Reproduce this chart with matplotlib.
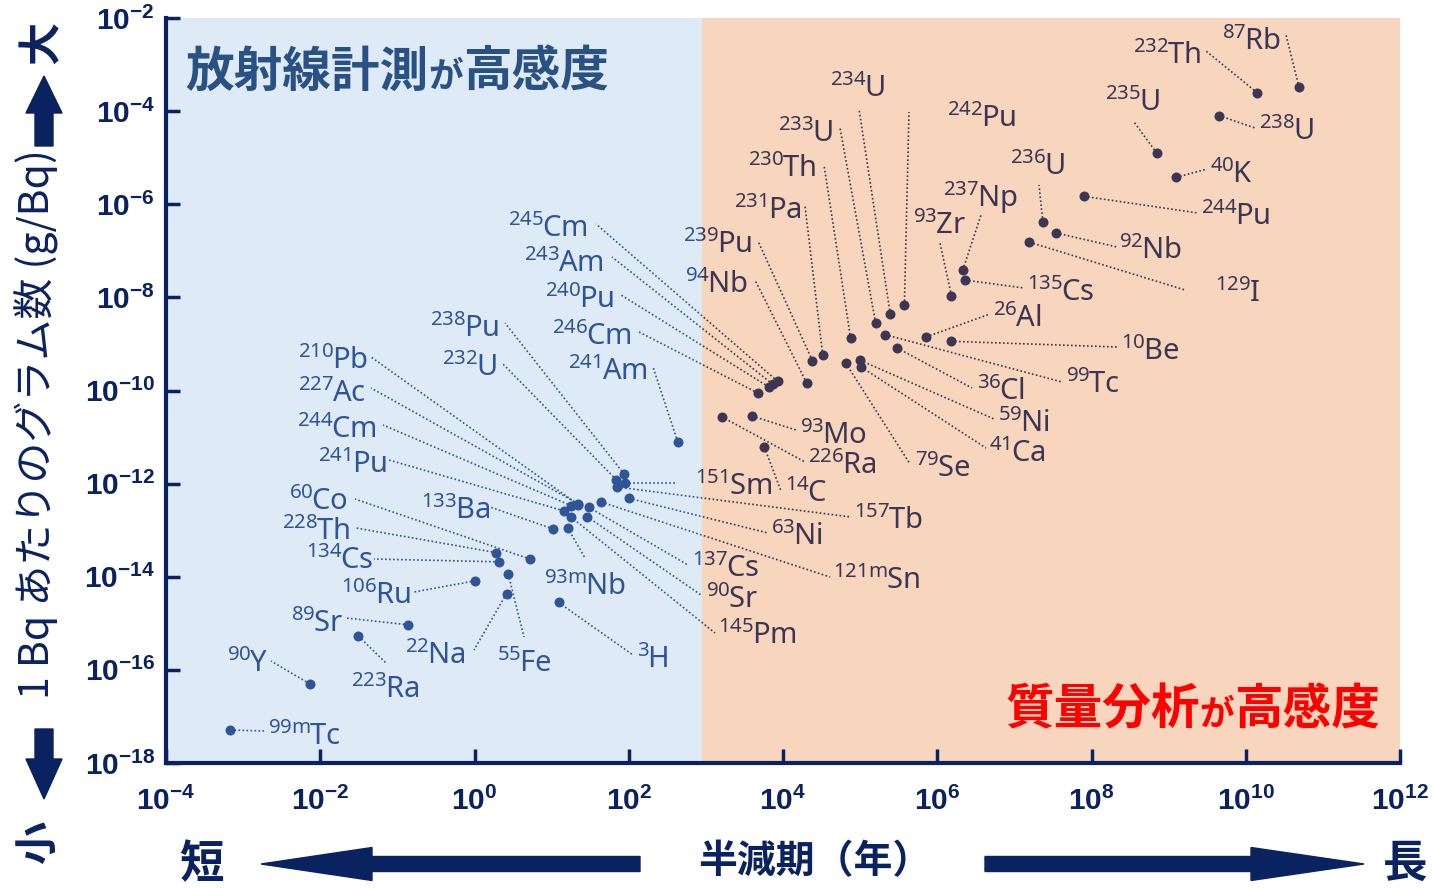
import re

import matplotlib
matplotlib.use("Agg")
import matplotlib.pyplot as plt
import matplotlib.transforms as mtransforms
from matplotlib.patches import FancyArrow
from matplotlib.offsetbox import TextArea, HPacker, AnnotationBbox

plt.rcParams['font.family'] = ['Noto Sans', 'Noto Sans CJK JP', 'DejaVu Sans']

# nuclide, half-life (years), grams per Bq
names = ['99mTc', '90Y', '223Ra', '89Sr', '22Na', '55Fe', '106Ru', '134Cs',
         '228Th', '60Co', '133Ba', '93mNb', '3H', '241Am', '238Pu', '232U',
         '210Pb', '227Ac', '244Cm', '241Pu', '151Sm', '157Tb', '63Ni', '137Cs',
         '121mSn', '90Sr', '145Pm',
         '246Cm', '240Pu', '243Am', '245Cm', '239Pu', '94Nb', '231Pa', '230Th',
         '233U', '234U', '242Pu', '99Tc', '36Cl', '79Se', '59Ni', '41Ca', '93Mo',
         '226Ra', '14C', '26Al', '10Be', '93Zr', '237Np', '135Cs', '129I',
         '236U', '92Nb', '244Pu', '235U', '40K', '238U', '232Th', '87Rb']
half_life = [6.85e-4, 7.31e-3, 3.13e-2, 0.1385, 2.60, 2.74, 1.02, 2.06,
             1.91, 5.27, 10.5, 16.1, 12.3, 432, 87.7, 68.9,
             22.2, 21.8, 18.1, 14.3, 90, 71, 101, 30.1,
             43.9, 28.8, 17.7,
             4.73e3, 6.56e3, 7.37e3, 8.5e3, 2.41e4, 2.03e4, 3.28e4, 7.54e4,
             1.59e5, 2.46e5, 3.75e5, 2.11e5, 3.01e5, 6.5e4, 1.0e5, 1.03e5, 4.0e3,
             1.6e3, 5.73e3, 7.17e5, 1.51e6, 1.53e6, 2.14e6, 2.3e6, 1.57e7,
             2.34e7, 3.47e7, 8.0e7, 7.04e8, 1.25e9, 4.47e9, 1.41e10, 4.92e10]
grams_per_bq = [5.1e-18, 5.0e-17, 5.3e-16, 9.3e-16, 4.33e-15, 1.14e-14, 8.18e-15, 2.09e-14,
                3.30e-14, 2.39e-14, 1.06e-13, 1.13e-13, 2.80e-15, 7.88e-12, 1.58e-12, 1.21e-12,
                3.53e-13, 3.74e-13, 3.34e-13, 2.61e-13, 1.03e-12, 8.44e-13, 4.82e-13, 3.12e-13,
                4.02e-13, 1.96e-13, 1.94e-13,
                8.81e-11, 1.19e-10, 1.36e-10, 1.58e-10, 4.36e-10, 1.44e-10, 5.73e-10, 1.31e-9,
                2.81e-9, 4.36e-9, 6.87e-9, 1.58e-9, 8.20e-10, 3.89e-10, 4.46e-10, 3.2e-10, 2.82e-11,
                2.74e-11, 6.07e-12, 1.41e-9, 1.14e-9, 1.08e-8, 3.84e-8, 2.35e-8, 1.53e-7,
                4.18e-7, 2.42e-7, 1.48e-6, 1.25e-5, 3.78e-6, 8.05e-5, 2.48e-4, 3.24e-4]

# label placement on the canvas in pixels (y down):
# text left, text middle, leader end x, leader end y
label_pos = {
    '99mTc': (268, 735, 266, 731), '90Y': (227, 662, 271, 661),
    '223Ra': (351, 688, 386, 663), '89Sr': (291, 622, 346, 618),
    '22Na': (405, 654, 474, 650), '55Fe': (497, 662, 524, 637),
    '106Ru': (341, 594, 414, 592), '134Cs': (306, 559, 374, 559),
    '228Th': (282, 530, 356, 528), '60Co': (289, 500, 355, 499),
    '133Ba': (421, 509, 490, 507), '93mNb': (544, 585, 585, 558),
    '3H': (637, 658, 633, 655), '241Am': (568, 370, 653, 367),
    '238Pu': (430, 327, 505, 323), '232U': (442, 366, 502, 363),
    '210Pb': (298, 359, 371, 357), '227Ac': (298, 392, 371, 388),
    '244Cm': (297, 428, 383, 425), '241Pu': (318, 463, 389, 460),
    '151Sm': (695, 485, 676, 483), '157Tb': (854, 519, 851, 517),
    '63Ni': (771, 535, 768, 533), '137Cs': (692, 567, 688, 565),
    '121mSn': (833, 579, 830, 577), '90Sr': (706, 598, 701, 595),
    '145Pm': (718, 634, 715, 633),
    '245Cm': (508, 227, 596, 224), '243Am': (524, 262, 612, 257),
    '240Pu': (545, 298, 621, 295), '246Cm': (552, 335, 639, 332),
    '239Pu': (683, 243, 758, 241), '94Nb': (685, 283, 755, 280),
    '231Pa': (734, 209, 805, 206), '230Th': (748, 167, 824, 165),
    '233U': (778, 132, 840, 128), '234U': (830, 87, 859, 109),
    '242Pu': (947, 117, 909, 112), '99Tc': (1066, 383, 1062, 382),
    '36Cl': (977, 390, 972, 388), '79Se': (915, 467, 910, 464),
    '59Ni': (998, 422, 994, 419), '41Ca': (989, 452, 986, 448),
    '93Mo': (800, 434, 796, 430), '226Ra': (808, 464, 805, 462),
    '14C': (785, 492, 781, 491), '26Al': (993, 317, 990, 314),
    '10Be': (1121, 350, 1117, 347), '93Zr': (913, 224, 940, 243),
    '237Np': (943, 197, 981, 215), '135Cs': (1027, 291, 1024, 288),
    '129I': (1215, 292, 1185, 290), '236U': (1010, 165, 1039, 185),
    '92Nb': (1119, 249, 1117, 247), '244Pu': (1201, 215, 1198, 213),
    '235U': (1105, 101, 1134, 122), '40K': (1210, 173, 1207, 169),
    '238U': (1259, 130, 1255, 128), '232Th': (1133, 54, 1206, 51),
    '87Rb': (1222, 40, 1286, 35),
}

W, H = 1434, 889
X0, X1, Y0, Y1 = 166, 1400, 18, 763
split = 900  # radiation counting / mass spectrometry boundary (years)

navy = '#0b2260'
blue_c = '#2f5597'
dark_c = '#3c3654'

fig = plt.figure(figsize=(W / 100, H / 100), dpi=100)
ax = fig.add_axes([X0 / W, 1 - Y1 / H, (X1 - X0) / W, (Y1 - Y0) / H])
ax.set_xscale('log')
ax.set_yscale('log')
ax.set_xlim(1e-4, 1e12)
ax.set_ylim(1e-18, 1e-2)
ax.set_facecolor('none')

# canvas pixels, y measured from the top
pix = mtransforms.Affine2D().scale(1 / W, -1 / H).translate(0, 1) + fig.transFigure


def to_data(px, py):
    lx = -4 + (px - X0) / (X1 - X0) * 16
    ly = -2 - (py - Y0) / (Y1 - Y0) * 16
    return 10 ** lx, 10 ** ly


def iso_label(name):
    m = re.match(r'(\d+m?)(.+)', name)
    return r'$^{\mathregular{%s}}\hspace{-0.07}$%s' % (m.group(1), m.group(2))


ax.axvspan(1e-4, split, color='#deebf7', zorder=0, lw=0)
ax.axvspan(split, 1e12, color='#f8d6bd', zorder=0, lw=0)

left_box = mtransforms.TransformedBbox(
    mtransforms.Bbox.from_extents(1e-6, 1e-20, split, 1.0), ax.transData)
right_box = mtransforms.TransformedBbox(
    mtransforms.Bbox.from_extents(split, 1e-20, 1e14, 1.0), ax.transData)
regions = [(blue_c, left_box), (dark_c, right_box)]

for name, t, g in zip(names, half_life, grams_per_bq):
    tx, ty, lx, ly = label_pos[name]
    ex, ey = to_data(lx, ly)
    sx, sy = to_data(tx, ty + 10)
    for color, box in regions:
        ln, = ax.plot([t, ex], [g, ey], ls=(0, (1, 1.4)), lw=1.2,
                      color=color, zorder=2)
        ln.set_clip_box(box)
        txt = ax.text(sx, sy, iso_label(name), fontsize=21, fontweight='medium',
                      color=color, ha='left', va='baseline', zorder=4,
                      clip_on=True)
        txt.set_clip_box(box)

for color, box in regions:
    pts, = ax.plot(half_life, grams_per_bq, 'o', ms=7.2, color=color,
                   mec='none', zorder=3)
    pts.set_clip_box(box)

# axes, ticks
xt = list(range(-4, 13, 2))
yt = list(range(-18, -1, 2))
ax.set_xticks([10.0 ** e for e in xt])
ax.set_yticks([10.0 ** e for e in yt])
ax.xaxis.set_minor_locator(matplotlib.ticker.NullLocator())
ax.yaxis.set_minor_locator(matplotlib.ticker.NullLocator())
tick_font = dict(fontfamily='Liberation Sans', fontweight='bold',
                 fontsize=21.5, color=navy)
ax.set_xticklabels([r'$\mathregular{10^{%d}}$' % e for e in xt], **tick_font)
ax.set_yticklabels([r'$\mathregular{10^{%d}}$' % e for e in yt], **tick_font)
ax.tick_params(axis='both', direction='in', length=10, width=2.5, color=navy)
ax.tick_params(axis='x', pad=17)
ax.tick_params(axis='y', pad=8)
for side in ('top', 'right'):
    ax.spines[side].set_visible(False)
for side in ('left', 'bottom'):
    ax.spines[side].set_color(navy)
    ax.spines[side].set_linewidth(3)


def heading(parts, color, x, y):
    areas = [TextArea(s, textprops=dict(color=color, fontsize=fs, fontweight='bold',
                                        family='Noto Sans CJK JP'))
             for s, fs in parts]
    box = HPacker(children=areas, align='baseline', pad=0, sep=0)
    ab = AnnotationBbox(box, (x, y), xycoords=pix, box_alignment=(0, 0.5),
                        frameon=False, pad=0, zorder=5)
    fig.add_artist(ab)


heading([('放射線計測', 35), ('が', 25), ('高感度', 35)], '#2a5183', 185, 72)
heading([('質量分析', 35), ('が', 25), ('高感度', 35)], '#ff0000', 1005, 710)

# vertical axis caption with arrows
cjk = dict(family='Noto Sans CJK JP', color=navy, transform=pix,
           ha='center', va='center', rotation=90)
fig.text(37, 424, '1 Bq あたりのグラム数 (g/Bq)', fontsize=29.5, **cjk)
fig.text(42, 42, '大', fontsize=31, fontweight='bold', **cjk)
fig.text(38, 842, '小', fontsize=31, fontweight='bold', **cjk)
fig.patches.append(FancyArrow(44, 146, 0, -70, width=18, head_width=36,
                              head_length=37, length_includes_head=True,
                              color=navy, transform=pix, figure=fig))
fig.patches.append(FancyArrow(44, 729, 0, 70, width=18, head_width=36,
                              head_length=40, length_includes_head=True,
                              color=navy, transform=pix, figure=fig))

# horizontal axis caption with arrows
bottom = dict(family='Noto Sans CJK JP', color=navy, transform=pix,
              ha='center', va='center', fontweight='bold')
fig.text(201, 864, '短', fontsize=32, **bottom)
fig.text(1405, 864, '長', fontsize=32, **bottom)
fig.text(815, 862, '半減期（年）', fontsize=28, **bottom)
fig.patches.append(FancyArrow(640, 864, -379, 0, width=15, head_width=33,
                              head_length=111, length_includes_head=True,
                              color=navy, transform=pix, figure=fig))
fig.patches.append(FancyArrow(985, 864, 379, 0, width=15, head_width=33,
                              head_length=113, length_includes_head=True,
                              color=navy, transform=pix, figure=fig))

fig.savefig('out.png', dpi=100)
